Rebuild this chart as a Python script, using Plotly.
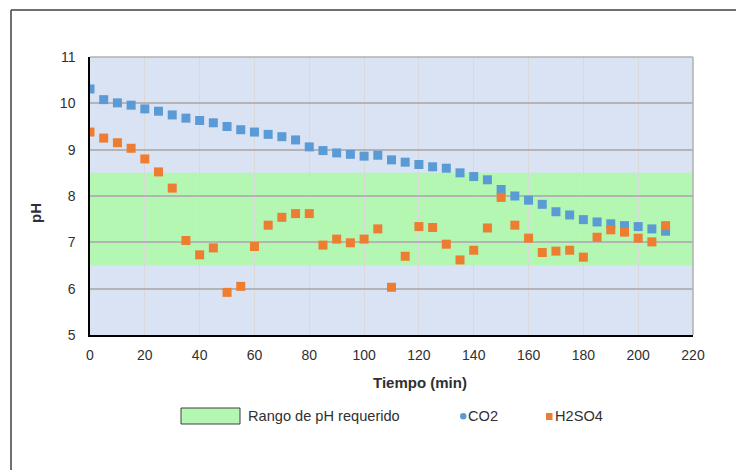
import plotly.graph_objects as go

# ---- data ----
tiempo = list(range(0, 215, 5))
co2 = [10.31, 10.08, 10.01, 9.96, 9.88, 9.83, 9.75, 9.68, 9.63, 9.58,
       9.50, 9.43, 9.38, 9.33, 9.28, 9.21, 9.06, 8.98, 8.93, 8.90,
       8.86, 8.88, 8.78, 8.73, 8.68, 8.63, 8.60, 8.50, 8.42, 8.35,
       8.14, 8.00, 7.91, 7.82, 7.66, 7.59, 7.49, 7.44, 7.40, 7.36,
       7.34, 7.29, 7.24]
h2so4 = [9.38, 9.25, 9.15, 9.03, 8.80, 8.52, 8.17, 7.04, 6.73, 6.88,
         5.92, 6.05, 6.91, 7.37, 7.54, 7.62, 7.62, 6.94, 7.07, 6.99,
         7.07, 7.29, 6.03, 6.70, 7.34, 7.32, 6.96, 6.62, 6.83, 7.31,
         7.97, 7.37, 7.09, 6.78, 6.81, 6.83, 6.68, 7.11, 7.27, 7.22,
         7.09, 7.01, 7.36]
rango_ph = [6.5, 8.5]
x_range = [0, 220]
y_range = [5, 11]
x_ticks = list(range(0, 221, 20))
y_ticks = list(range(5, 12, 1))

W, H = 736, 470
L, R, T, B = 90, 43, 57, 135
pw, ph = W - L - R, H - T - B

def px(x):
    return (x - L) / pw

def py(y):
    return (H - B - y) / ph

FONT = "Liberation Sans, Arial, sans-serif"
TXT = "#303030"

fig = go.Figure()
fig.add_trace(go.Scatter(x=tiempo, y=co2, mode="markers", name="CO2",
                         marker=dict(symbol="square", size=9, color="#5b9bd5"),
                         showlegend=False))
fig.add_trace(go.Scatter(x=tiempo, y=h2so4, mode="markers", name="H2SO4",
                         marker=dict(symbol="square", size=9, color="#ed7d31"),
                         showlegend=False))

shapes = [
    # required pH band
    dict(type="rect", xref="x", yref="y", x0=x_range[0], x1=x_range[1],
         y0=rango_ph[0], y1=rango_ph[1], fillcolor="#b3f7b3",
         line=dict(width=0), layer="below"),
    # top and right plot border
    dict(type="line", xref="paper", yref="paper", x0=0, x1=1, y0=1, y1=1,
         line=dict(color="#b0b0b0", width=1.5), layer="above"),
    dict(type="line", xref="paper", yref="paper", x0=1, x1=1, y0=0, y1=1,
         line=dict(color="#b0b0b0", width=1.5), layer="above"),
    # outer chart frame
    dict(type="line", xref="paper", yref="paper", x0=px(11), x1=px(740),
         y0=py(10), y1=py(10), line=dict(color="#404040", width=1.5)),
    dict(type="line", xref="paper", yref="paper", x0=px(11), x1=px(11),
         y0=py(10), y1=py(475), line=dict(color="#404040", width=1.5)),
    # manual legend
    dict(type="rect", xref="paper", yref="paper", x0=px(181), x1=px(240),
         y0=py(424), y1=py(408), fillcolor="#b3f7b3",
         line=dict(color="#404040", width=1)),
    dict(type="circle", xref="paper", yref="paper", x0=px(460), x1=px(466.5),
         y0=py(419.5), y1=py(413), fillcolor="#5b9bd5", line=dict(width=0)),
    dict(type="rect", xref="paper", yref="paper", x0=px(546), x1=px(552.5),
         y0=py(420), y1=py(413), fillcolor="#ed7d31", line=dict(width=0)),
]

annotations = [
    dict(text="<b>Tiempo (min)</b>", xref="paper", yref="paper",
         x=px(420), y=py(382), xanchor="center", yanchor="middle",
         showarrow=False, font=dict(size=15, color=TXT, family=FONT)),
    dict(text="<b>pH</b>", xref="paper", yref="paper",
         x=px(35), y=py(213), xanchor="center", yanchor="middle",
         textangle=-90, showarrow=False, font=dict(size=15, color=TXT, family=FONT)),
    dict(text="Rango de pH requerido", xref="paper", yref="paper",
         x=px(246), y=py(416), xanchor="left", yanchor="middle",
         showarrow=False, font=dict(size=14.6, color=TXT, family=FONT)),
    dict(text="CO2", xref="paper", yref="paper",
         x=px(466), y=py(416), xanchor="left", yanchor="middle",
         showarrow=False, font=dict(size=14.6, color=TXT, family=FONT)),
    dict(text="H2SO4", xref="paper", yref="paper",
         x=px(553), y=py(416), xanchor="left", yanchor="middle",
         showarrow=False, font=dict(size=14.6, color=TXT, family=FONT)),
]

fig.update_layout(
    width=W, height=H,
    margin=dict(l=L, r=R, t=T, b=B, autoexpand=False),
    paper_bgcolor="white", plot_bgcolor="#dae3f3",
    font=dict(family=FONT, size=14, color=TXT),
    showlegend=False,
    shapes=shapes, annotations=annotations,
    xaxis=dict(range=x_range, tickvals=x_ticks, showgrid=True,
               gridcolor="#d9d9d9", gridwidth=1, zeroline=False,
               showline=True, linecolor="black", linewidth=1.5,
               ticks="", ticklabelstandoff=6, fixedrange=True),
    yaxis=dict(range=y_range, tickvals=y_ticks, showgrid=True,
               gridcolor="#b4b4b4", gridwidth=1.5, zeroline=False,
               showline=True, linecolor="black", linewidth=1.5,
               ticks="", ticklabelstandoff=10, fixedrange=True),
)

fig.write_html("out.html")
